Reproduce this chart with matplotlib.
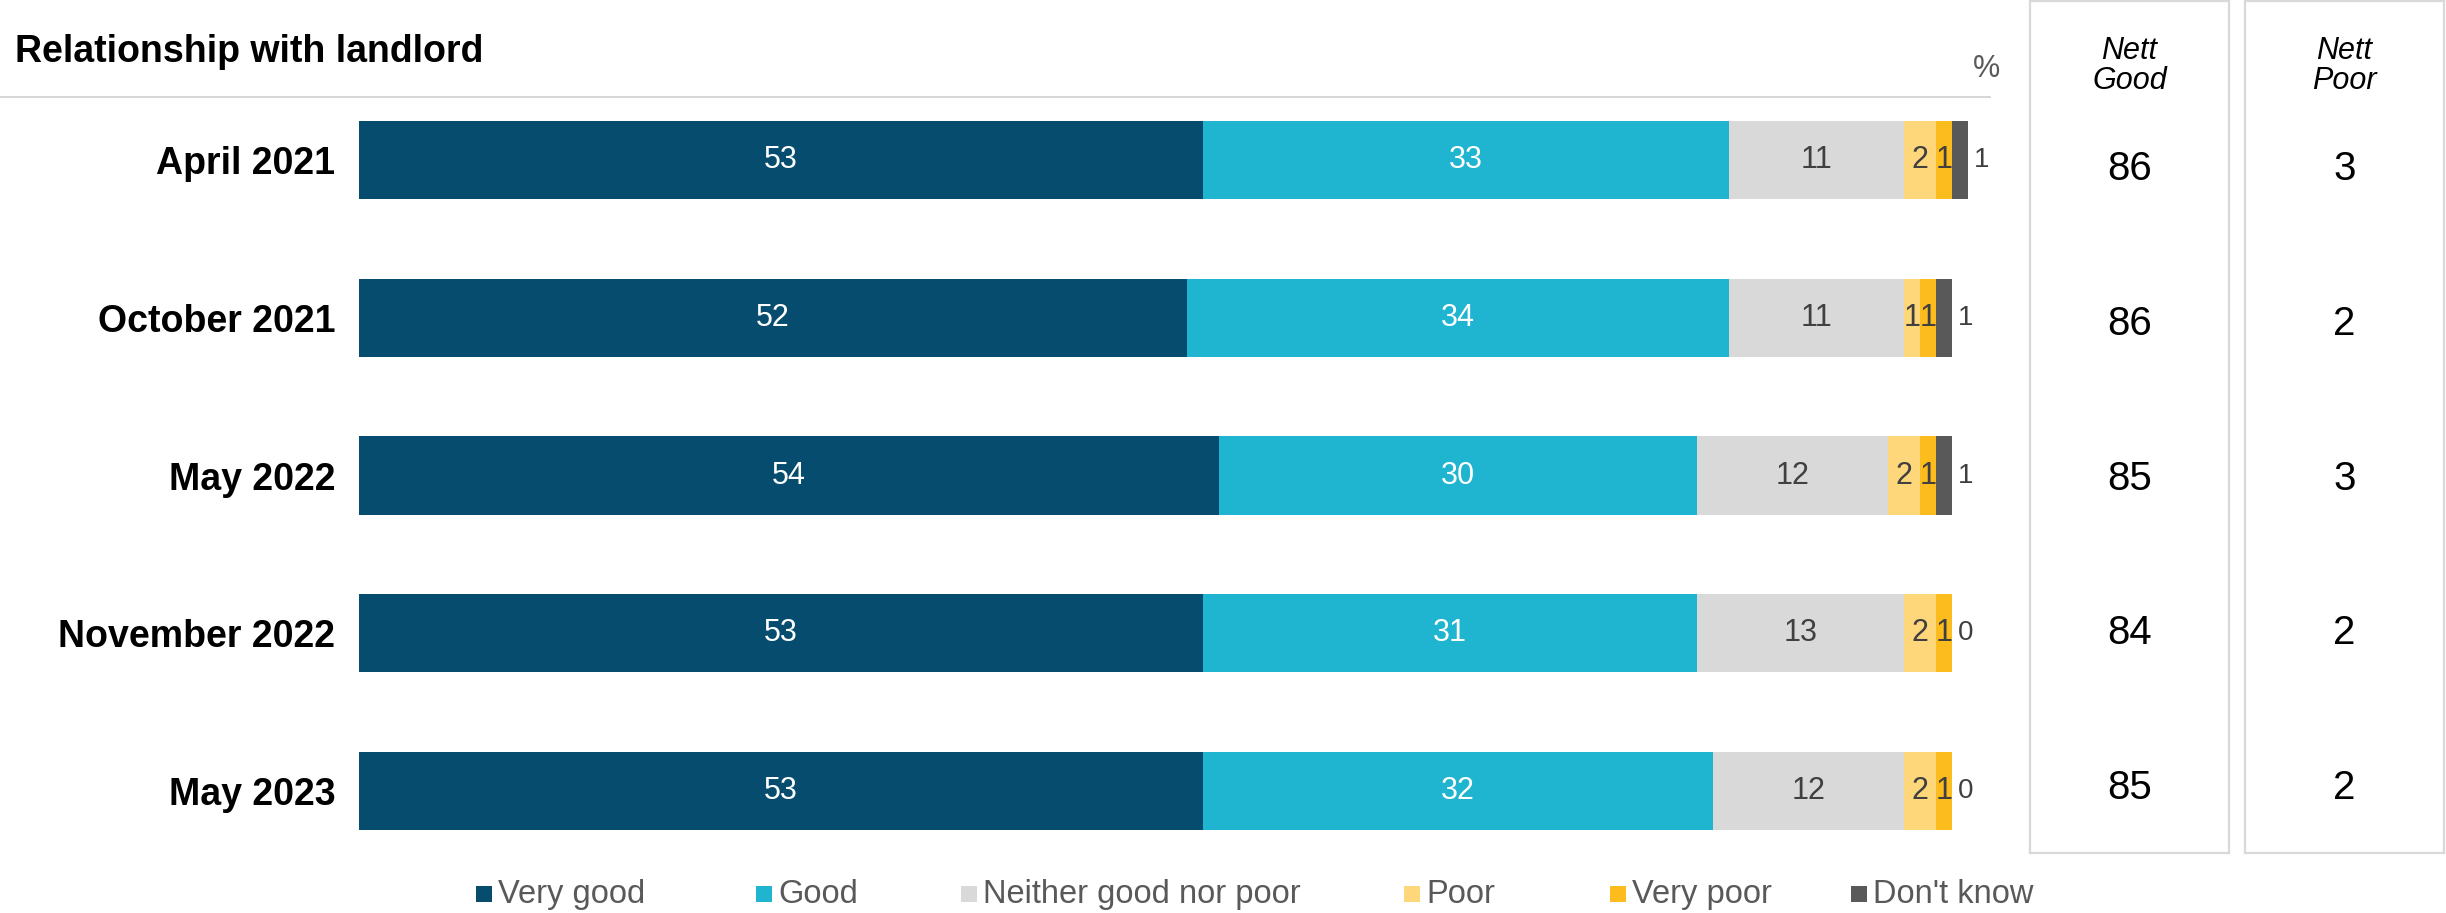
import matplotlib
matplotlib.use("Agg")
import matplotlib.pyplot as plt
from matplotlib.patches import Rectangle
from matplotlib.lines import Line2D

plt.rcParams['font.family'] = ['Liberation Sans', 'DejaVu Sans']

# ---------------- data ----------------
waves = ["April 2021", "October 2021", "May 2022", "November 2022", "May 2023"]
series_names = ["Very good", "Good", "Neither good nor poor", "Poor", "Very poor", "Don't know"]
very_good = [53, 52, 54, 53, 53]
good = [33, 34, 30, 31, 32]
neither = [11, 11, 12, 13, 12]
poor = [2, 1, 2, 2, 2]
very_poor = [1, 1, 1, 1, 1]
dont_know = [1, 1, 1, 0, 0]
nett_good = [86, 86, 85, 84, 85]
nett_poor = [3, 2, 3, 2, 2]
title = "Relationship with landlord"

# ---------------- style ----------------
colors = ["#054C6E", "#1FB4CF", "#D9D9D9", "#FED77A", "#FDBC1E", "#595959"]
label_colors = ["white", "white", "#404040", "#404040", "#404040", "#404040"]
W, H = 2446, 913
fig = plt.figure(figsize=(W / 100, H / 100), dpi=100)

px_per_unit = 15.93
ax_left_px = 359
xmax = 104
row_top, row_bot = 160, 791
spacing = (row_bot - row_top) / 4
ax_top_px = row_top - spacing / 2
ax_bot_px = row_bot + spacing / 2
ax = fig.add_axes([ax_left_px / W, 1 - ax_bot_px / H,
                   xmax * px_per_unit / W, (ax_bot_px - ax_top_px) / H])
ax.set_xlim(0, xmax)
ax.set_ylim(len(waves) - 0.5, -0.5)
for s in ax.spines.values():
    s.set_visible(False)
ax.set_xticks([])
ax.set_yticks(range(len(waves)))
ax.set_yticklabels(waves, fontsize=27, fontweight='bold', color='black')
ax.tick_params(axis='y', length=0, pad=17)

all_series = [very_good, good, neither, poor, very_poor, dont_know]
bar_h = 78 / spacing
left = [0] * len(waves)
for si, vals in enumerate(all_series):
    ax.barh(range(len(waves)), vals, left=left, height=bar_h, color=colors[si],
            edgecolor='none', linewidth=0)
    for i, v in enumerate(vals):
        if si < 5:
            if v > 0:
                ax.text(left[i] + v / 2, i, str(v), ha='center', va='center',
                        fontsize=22, color=label_colors[si])
        else:
            ax.text(left[i] + v + 0.35, i, str(v), ha='left', va='center',
                    fontsize=20, color='#404040')
    left = [l + v for l, v in zip(left, vals)]

# title and rule
fig.text(15 / W, 1 - 62 / H, title, fontsize=27, fontweight='bold',
         ha='left', va='baseline', color='black')
fig.add_artist(Line2D([0, 1990 / W], [1 - 97 / H, 1 - 97 / H],
                      color='#CFCFCF', lw=1.2, transform=fig.transFigure))
fig.text(1986 / W, 1 - 69 / H, "%", fontsize=22, ha='center', va='center', color='#595959')

# nett panels
panel_top, panel_bot = 1.5, 853
p_row0, p_row4 = 169, 788
p_sp = (p_row4 - p_row0) / 4
for (x0, x1, head, vals) in [(2030, 2229, "Nett\nGood", nett_good),
                             (2245, 2444, "Nett\nPoor", nett_poor)]:
    pax = fig.add_axes([x0 / W, 1 - panel_bot / H, (x1 - x0) / W, (panel_bot - panel_top) / H])
    pax.set_xlim(0, 1)
    pax.set_ylim(4 + (panel_bot - p_row4) / p_sp, (panel_top - p_row0) / p_sp)
    pax.set_xticks([])
    pax.set_yticks([])
    for s in pax.spines.values():
        s.set_color('#D9D9D9')
        s.set_linewidth(1.6)
    pax.text(0.5, (66 - p_row0) / p_sp, head, ha='center', va='center', fontsize=22,
             style='italic', linespacing=1.0, color='black')
    for i, v in enumerate(vals):
        pax.text(0.5, i, str(v), ha='center', va='center', fontsize=29, color='black')

# legend
leg_x = [476, 756, 961, 1404, 1610, 1851]
leg_y = 894
for name, c, lx in zip(series_names, colors, leg_x):
    fig.add_artist(Rectangle((lx / W, 1 - (leg_y + 8) / H), 16 / W, 16 / H,
                             transform=fig.transFigure, facecolor=c, edgecolor='none'))
    fig.text((lx + 22) / W, 1 - leg_y / H, name, fontsize=23.5, ha='left', va='center',
             color='#595959')

fig.savefig("out.png", dpi=100, facecolor='white')
